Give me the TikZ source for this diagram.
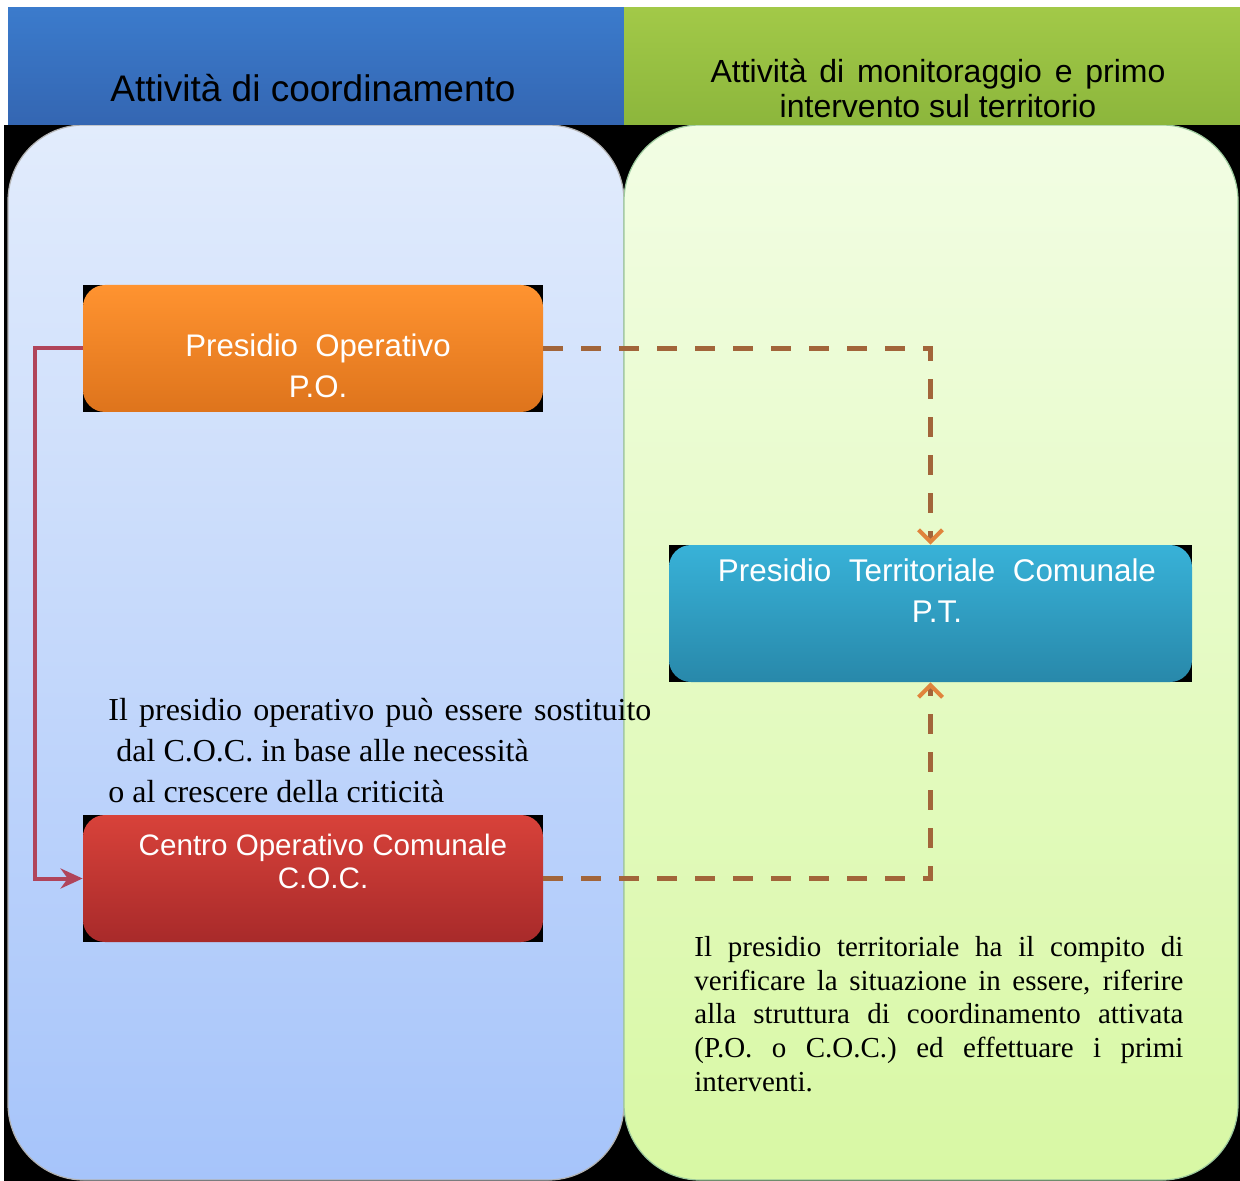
\documentclass[tikz,border=0pt]{standalone}
\usepackage{fontspec}
\setmainfont{Liberation Serif}
\newfontfamily\arialf{Liberation Sans}
\usetikzlibrary{arrows.meta,calc}
\pgfdeclarelayer{back}
\pgfdeclarelayer{mid}
\pgfsetlayers{back,mid,main}
\definecolor{hdrBlueT}{HTML}{3B7BCC}
\definecolor{hdrBlueB}{HTML}{3466B2}
\definecolor{hdrGreenT}{HTML}{A2C948}
\definecolor{hdrGreenB}{HTML}{8CB63C}
\definecolor{lpTop}{HTML}{E2ECFC}
\definecolor{lpBot}{HTML}{A6C4FA}
\definecolor{rpTop}{HTML}{F2FDE4}
\definecolor{rpBot}{HTML}{D8F8A4}
\definecolor{poTop}{HTML}{FF9330}
\definecolor{poBot}{HTML}{DE741C}
\definecolor{ptTop}{HTML}{38B2D8}
\definecolor{ptBot}{HTML}{2888AA}
\definecolor{cocTop}{HTML}{D8423A}
\definecolor{cocBot}{HTML}{A82A2A}
\definecolor{solidLine}{HTML}{B0445A}
\definecolor{dashLine}{HTML}{A2653A}
\definecolor{dashTip}{HTML}{E0843C}
\begin{document}
\begin{tikzpicture}[x=0.5pt,y=-0.5pt,
  boxst/.style={rounded corners=11pt, minimum width=230pt, minimum height=63.5pt, inner sep=0pt},
  boxtxt/.style={text=white, align=center, inner sep=0pt},
  hdrtxt/.style={text=black, align=center, inner sep=0pt},
  solidarrow/.style={draw=solidLine, line width=2pt, -{Stealth[length=11pt,width=10pt]}},
  dasharrow/.style={draw=dashLine, line width=2.5pt, dash pattern=on 10pt off 9pt,
     -{Straight Barb[length=6pt,width=12pt,line width=2pt,color=dashTip]}},
  serif/.style={inner sep=0pt, align=left, anchor=west}]
\useasboundingbox (0,0) rectangle (1240,1181);

\begin{pgfonlayer}{back}
  \fill[white] (0,0) rectangle (1240,1181);
  \fill[black] (4,125) rectangle (1240,1181);
  \shade[top color=lpTop, bottom color=lpBot, rounded corners=38pt, draw=gray!60, line width=0.6pt] (8,125) rectangle (624,1180);
  \shade[top color=rpTop, bottom color=rpBot, rounded corners=38pt, draw=green!30!gray!60, line width=0.6pt] (624,125) rectangle (1238,1180);
  \shade[top color=hdrBlueT, bottom color=hdrBlueB] (8,8) rectangle (624,125);
  \shade[top color=hdrGreenT, bottom color=hdrGreenB] (624,8) rectangle (1240,125);
\end{pgfonlayer}

\node[hdrtxt, font=\arialf\fontsize{18.5}{22}\selectfont] (hleft) at (313,88) {Attività di coordinamento};
\node[hdrtxt, font=\arialf\fontsize{16}{17.5}\selectfont] (hright) at (938,88)
  {\makebox[227.5pt][s]{Attività di monitoraggio e primo}\\intervento sul territorio};

\node[boxst, top color=poTop, bottom color=poBot] (po) at (313,348.5) {};
\node[boxst, minimum width=261.5pt, minimum height=68.5pt, top color=ptTop, bottom color=ptBot] (pt) at (930.5,613.5) {};
\node[boxst, top color=cocTop, bottom color=cocBot] (coc) at (313,878.5) {};

\begin{pgfonlayer}{mid}
  \fill[black] (po.south west) rectangle (po.north east);
  \fill[black] (pt.south west) rectangle (pt.north east);
  \fill[black] (coc.south west) rectangle (coc.north east);
\end{pgfonlayer}

\node[boxtxt, font=\arialf\fontsize{15.6}{20.5}\selectfont] (potxt) at (318,366) {Presidio\ \ Operativo\\P.O.};
\node[boxtxt, font=\arialf\fontsize{15.7}{20.5}\selectfont] (pttxt) at (937,591) {Presidio\ \ Territoriale\ \ Comunale\\P.T.};
\node[boxtxt, font=\arialf\fontsize{14.8}{16.5}\selectfont] (coctxt) at (323,861) {Centro Operativo Comunale\\C.O.C.};

\draw[solidarrow] (po.west) -- ++(-48,0) |- (coc.west);
\draw[dasharrow] (po.east) -| (pt.north);
\draw[dasharrow] (coc.east) -| (pt.south);

\node[serif, font=\fontsize{16}{20.5}\selectfont] (note1) at (108,751)
  {\makebox[271.5pt][s]{Il presidio operativo può essere sostituito}\\
   \hspace*{4pt}dal C.O.C. in base alle necessità\\
   o al crescere della criticità};
\node[serif, font=\fontsize{14.5}{16.9}\selectfont] (note2) at (694,1014)
  {\makebox[244.5pt][s]{Il presidio territoriale ha il compito di}\\
   \makebox[244.5pt][s]{verificare la situazione in essere, riferire}\\
   \makebox[244.5pt][s]{alla struttura di coordinamento attivata}\\
   \makebox[244.5pt][s]{(P.O. o C.O.C.) ed effettuare i primi}\\
   interventi.};
\end{tikzpicture}
\end{document}
